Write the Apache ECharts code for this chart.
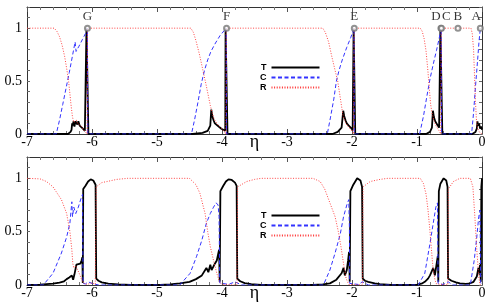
<!DOCTYPE html>
<html><head><meta charset="utf-8">
<script src="https://cdn.jsdelivr.net/npm/echarts/dist/echarts.min.js"></script>
<style>html,body{margin:0;padding:0;background:#fff}#c{width:491px;height:308px}</style>
</head><body><div id="c"></div><script>
// ---- data (eta, value) ----
const topT = [[-7,0],[-6.37,0],[-6.33,0.02],[-6.315,0.04],[-6.305,0.1],[-6.295,0.08],[-6.285,0.12],[-6.27,0.07],[-6.255,0.12],[-6.24,0.11],[-6.225,0.09],[-6.21,0.12],[-6.19,0.08],[-6.17,0.07],[-6.14,0.05],[-6.11,0.03],[-6.09,0.02],[-6.085,1],[-6.06,1],[-6.055,0],
[-4.45,0],[-4.3,0.01],[-4.22,0.03],[-4.18,0.08],[-4.165,0.23],[-4.15,0.17],[-4.13,0.13],[-4.11,0.1],[-4.09,0.11],[-4.07,0.08],[-4.04,0.07],[-4.01,0.05],[-3.98,0.04],[-3.95,0.03],[-3.945,1],[-3.92,1],[-3.915,0],
[-2.3,0],[-2.22,0.02],[-2.16,0.06],[-2.135,0.22],[-2.12,0.17],[-2.1,0.13],[-2.08,0.1],[-2.05,0.08],[-2.02,0.06],[-1.99,0.04],[-1.98,0.03],[-1.975,1],[-1.955,1],[-1.95,0],
[-0.86,0],[-0.8,0.02],[-0.77,0.06],[-0.755,0.22],[-0.74,0.16],[-0.72,0.12],[-0.69,0.09],[-0.66,0.06],[-0.645,0.05],[-0.64,1],[-0.615,1],[-0.61,0],
[-0.15,0],[-0.1,0.02],[-0.08,0.05],[-0.07,0.12],[-0.06,0.08],[-0.045,0.1],[-0.03,0.05],[-0.015,0.07],[0,0.04]];
const topC = [[-7,0],[-6.55,0],[-6.5,0.13],[-6.45,0.28],[-6.4,0.43],[-6.35,0.58],[-6.3,0.74],[-6.26,0.87],[-6.245,0.78],[-6.2,0.83],[-6.15,0.89],[-6.1,0.95],[-6.07,1],[-6.065,0],
[-4.47,0],[-4.42,0.14],[-4.37,0.3],[-4.32,0.47],[-4.27,0.6],[-4.22,0.7],[-4.17,0.78],[-4.1,0.86],[-4.03,0.93],[-3.935,1],[-3.93,0],
[-2.38,0],[-2.33,0.16],[-2.28,0.33],[-2.24,0.5],[-2.2,0.6],[-2.15,0.7],[-2.08,0.82],[-2.02,0.91],[-1.97,1],[-1.965,0],
[-0.96,0],[-0.9,0.17],[-0.85,0.35],[-0.8,0.52],[-0.75,0.66],[-0.7,0.79],[-0.66,0.9],[-0.628,1],[-0.622,0],
[-0.16,0],[-0.13,0.2],[-0.1,0.45],[-0.07,0.68],[-0.045,0.88],[-0.025,1]];
const topR = [[-7,1],[-6.58,1],[-6.54,0.97],[-6.5,0.92],[-6.46,0.84],[-6.42,0.73],[-6.39,0.62],[-6.36,0.5],[-6.34,0.38],[-6.32,0.26],[-6.3,0.16],[-6.28,0.11],[-6.26,0.12],[-6.24,0.13],[-6.22,0.1],[-6.19,0.09],[-6.16,0.07],[-6.13,0.04],[-6.1,0.02],[-6.075,0],[-6.07,1],
[-4.48,1],[-4.44,0.96],[-4.4,0.88],[-4.35,0.76],[-4.3,0.62],[-4.25,0.48],[-4.21,0.36],[-4.18,0.27],[-4.15,0.2],[-4.12,0.14],[-4.08,0.1],[-4.04,0.07],[-4.0,0.05],[-3.96,0.02],[-3.94,0],[-3.935,1],
[-2.45,1],[-2.41,0.96],[-2.36,0.87],[-2.31,0.73],[-2.26,0.6],[-2.22,0.5],[-2.19,0.38],[-2.16,0.26],[-2.14,0.18],[-2.11,0.12],[-2.07,0.08],[-2.03,0.05],[-1.99,0.02],[-1.975,0],[-1.968,1],
[-0.95,1],[-0.92,0.97],[-0.89,0.9],[-0.86,0.78],[-0.83,0.58],[-0.81,0.42],[-0.79,0.28],[-0.77,0.2],[-0.74,0.13],[-0.71,0.08],[-0.68,0.05],[-0.65,0.02],[-0.635,0],[-0.628,1],
[-0.17,1],[-0.15,0.95],[-0.13,0.8],[-0.115,0.55],[-0.1,0.3],[-0.085,0.13],[-0.07,0.06],[-0.05,0.03],[-0.03,0.01],[0,0]];

const botT = [[-7,0],[-6.8,0.003],[-6.6,0.012],[-6.5,0.022],[-6.43,0.035],[-6.39,0.055],[-6.35,0.07],[-6.31,0.09],[-6.29,0.05],[-6.27,0.1],[-6.24,0.19],[-6.21,0.19],[-6.18,0.2],[-6.16,0.23],[-6.148,0.26],[-6.142,0.02],[-6.135,0.9],[-6.1,0.93],[-6.06,0.97],[-6.02,0.99],[-5.98,0.98],[-5.945,0.94],[-5.935,0.06],[-5.9,0.04],[-5.85,0.025],[-5.75,0.012],[-5.6,0.005],[-5.4,0.002],[-5.1,0],
[-4.95,0],[-4.8,0.006],[-4.65,0.015],[-4.5,0.03],[-4.4,0.055],[-4.31,0.09],[-4.24,0.16],[-4.21,0.12],[-4.18,0.19],[-4.16,0.14],[-4.11,0.2],[-4.08,0.23],[-4.045,0.33],[-4.035,0.03],[-4.025,0.88],[-3.98,0.93],[-3.94,0.97],[-3.9,0.99],[-3.85,0.985],[-3.8,0.96],[-3.775,0.93],[-3.765,0.06],[-3.72,0.035],[-3.65,0.018],[-3.55,0.008],[-3.4,0.002],[-3.2,0],
[-2.6,0],[-2.45,0.006],[-2.34,0.015],[-2.24,0.05],[-2.16,0.11],[-2.13,0.16],[-2.11,0.09],[-2.08,0.14],[-2.06,0.23],[-2.045,0.31],[-2.035,0.03],[-2.025,0.88],[-1.98,0.94],[-1.92,1],[-1.87,0.98],[-1.845,0.92],[-1.835,0.06],[-1.8,0.04],[-1.75,0.03],[-1.65,0.015],[-1.57,0.008],[-1.4,0.002],[-1.22,0],
[-1.1,0.001],[-1.0,0.004],[-0.93,0.012],[-0.88,0.03],[-0.83,0.06],[-0.8,0.09],[-0.75,0.16],[-0.725,0.09],[-0.7,0.19],[-0.68,0.27],[-0.672,0.03],[-0.664,0.88],[-0.64,0.95],[-0.59,1],[-0.55,0.98],[-0.53,0.92],[-0.522,0.06],[-0.47,0.04],[-0.4,0.025],[-0.34,0.015],[-0.25,0.01],[-0.2,0.012],[-0.13,0.03],[-0.08,0.08],[-0.055,0.16],[-0.045,0.11],[-0.03,0.19],[-0.018,0.03],[-0.01,0.92],[0,1]];
const botC = [[-7,0],[-6.75,0],[-6.6,0.11],[-6.47,0.3],[-6.39,0.45],[-6.34,0.58],[-6.31,0.78],[-6.3,0.64],[-6.28,0.73],[-6.25,0.67],[-6.21,0.73],[-6.18,0.72],[-6.16,0.83],[-6.145,0.85],[-6.138,0.015],[-6.1,0.01],[-6.06,0.03],[-6.0,0.015],[-5.9,0],
[-4.65,0],[-4.49,0.11],[-4.39,0.27],[-4.31,0.42],[-4.24,0.58],[-4.18,0.67],[-4.13,0.73],[-4.09,0.77],[-4.06,0.75],[-4.045,0.64],[-4.035,0.02],[-3.9,0.005],[-3.8,0.03],[-3.7,0],
[-2.44,0],[-2.34,0.14],[-2.26,0.3],[-2.18,0.48],[-2.13,0.64],[-2.08,0.75],[-2.05,0.8],[-2.04,0.55],[-2.035,0.015],[-1.9,0.005],[-1.84,0.03],[-1.75,0],
[-0.98,0],[-0.88,0.11],[-0.8,0.39],[-0.75,0.58],[-0.71,0.73],[-0.685,0.77],[-0.675,0.015],[-0.6,0.005],[-0.52,0.03],[-0.45,0],
[-0.18,0],[-0.12,0.23],[-0.08,0.45],[-0.05,0.64],[-0.03,0.7],[-0.02,0.02],[0,0]];
const botR = [[-7,1],[-6.8,0.995],[-6.7,0.97],[-6.6,0.92],[-6.47,0.8],[-6.39,0.67],[-6.34,0.5],[-6.31,0.33],[-6.295,0.2],[-6.28,0.16],[-6.25,0.18],[-6.22,0.14],[-6.19,0.1],[-6.16,0.05],[-6.13,0.02],[-6.08,0.005],[-6.0,0.02],[-5.95,0.005],[-5.935,0.92],[-5.85,0.96],[-5.77,0.97],[-5.62,0.99],[-5.45,1],
[-4.5,1],[-4.47,0.99],[-4.4,0.94],[-4.34,0.86],[-4.26,0.67],[-4.22,0.5],[-4.18,0.36],[-4.13,0.23],[-4.08,0.11],[-4.04,0.03],[-4.0,0.005],[-3.77,0],[-3.76,0.92],[-3.62,0.97],[-3.5,0.99],[-3.4,1],
[-2.6,1],[-2.49,0.97],[-2.42,0.9],[-2.34,0.77],[-2.26,0.64],[-2.21,0.5],[-2.17,0.36],[-2.13,0.2],[-2.09,0.06],[-2.05,0.005],[-1.84,0],[-1.83,0.92],[-1.72,0.97],[-1.57,0.99],[-1.45,1],
[-0.95,1],[-0.9,0.95],[-0.86,0.85],[-0.83,0.7],[-0.8,0.5],[-0.78,0.35],[-0.76,0.2],[-0.74,0.1],[-0.72,0.04],[-0.7,0.01],[-0.525,0],[-0.518,0.9],[-0.44,0.97],[-0.34,1],
[-0.18,1],[-0.14,0.92],[-0.11,0.64],[-0.08,0.33],[-0.05,0.08],[-0.03,0],[0,0]];

const markerNames = ['G','F','E','D','C','B','A'];
const markerEta   = [-6.07,-3.93,-1.965,-0.632,-0.624,-0.37,-0.026];
const markerVal   = [1,1,1,1,1,1,1];
const seriesNames = ['T','C','R'];

// ---- styles ----
const labelOffsets = {D:[-5,0], C:[5,0], A:[-4,0]};
const styles = {
  T:{color:'#000000', width:1.8, type:'solid'},
  C:{color:'#3333ff', width:1, type:[4,2.5]},
  R:{color:'#ff3030', width:0.9, type:[1,1.6]}
};
const serif = 'Liberation Serif';

function xAx(gi, pos, withLabels){
  return {type:'value', gridIndex:gi, position:pos, min:-7, max:0, interval:1,
    axisLine:{show:true, onZero:false, lineStyle:{color:'#333', width:1}},
    axisTick:{show:true, inside:true, length:5, lineStyle:{color:'#555'}},
    minorTick:{show:true, splitNumber:5, length:3, lineStyle:{color:'#777'}},
    splitLine:{show:false}, minorSplitLine:{show:false},
    axisLabel:{show:withLabels, margin:1, color:'#000', fontFamily:serif, fontSize:14},
    name: withLabels ? 'η' : '', nameLocation:'middle', nameGap:-1, nameMoveOverlap:false,
    nameTextStyle:{fontFamily:serif, fontSize:18, color:'#000'}};
}
function yAx(gi, pos, withLabels){
  return {type:'value', gridIndex:gi, position:pos, min:0, max:1.2, interval:0.1,
    axisLine:{show:true, onZero:false, lineStyle:{color:'#333', width:1}},
    axisTick:{show:true, inside:true, length:3, lineStyle:{color:'#666'}},
    splitLine:{show:false},
    axisLabel:{show:withLabels, margin:5, color:'#000', fontFamily:serif, fontSize:14,
      formatter: v => (Math.abs(v)<1e-6 ? '0' : Math.abs(v-0.5)<1e-6 ? '0.5' : Math.abs(v-1)<1e-6 ? '1' : '')}};
}
function lineSeries(name, data, xi, yi){
  const s = styles[name];
  return {name, type:'line', xAxisIndex:xi, yAxisIndex:yi, data, showSymbol:false, symbol:'none',
    lineStyle:{color:s.color, width:s.width, type:s.type}, itemStyle:{color:s.color}, animation:false, z:2};
}
function legend(top){
  return {orient:'vertical', left:255, top, align:'right', itemWidth:48, itemHeight:8, itemGap:1,
    selectedMode:false, data:seriesNames, itemStyle:{opacity:0},
    textStyle:{fontFamily:'Liberation Sans', fontWeight:'bold', fontSize:9, color:'#000', lineHeight:9}};
}

const option = {
  backgroundColor:'#fff',
  animation:false,
  grid:[{left:27, right:9, top:7, height:127}, {left:27, right:9, top:157, height:128}],
  xAxis:[xAx(0,'bottom',true), xAx(0,'top',false), xAx(1,'bottom',true), xAx(1,'top',false)],
  yAxis:[yAx(0,'left',true), yAx(0,'right',false), yAx(1,'left',true), yAx(1,'right',false)],
  legend:[legend(58), legend(206)],
  series:[
    lineSeries('T', topT, 0, 0), lineSeries('C', topC, 0, 0), lineSeries('R', topR, 0, 0),
    lineSeries('T', botT, 2, 2), lineSeries('C', botC, 2, 2), lineSeries('R', botR, 2, 2),
    {type:'scatter', xAxisIndex:0, yAxisIndex:0, symbol:'emptyCircle', symbolSize:5, z:5,
     itemStyle:{color:'#777', borderWidth:1.2},
     data: markerNames.map((n,i)=>({name:n, value:[markerEta[i], markerVal[i]],
        label:{offset: labelOffsets[n] || [0,0]}})),
     label:{show:true, position:'top', distance:2, formatter:p=>p.name, fontFamily:serif, fontSize:13, color:'#000'}}
  ]
};
const chart = echarts.init(document.getElementById('c'));
chart.setOption(option);
</script></body></html>
